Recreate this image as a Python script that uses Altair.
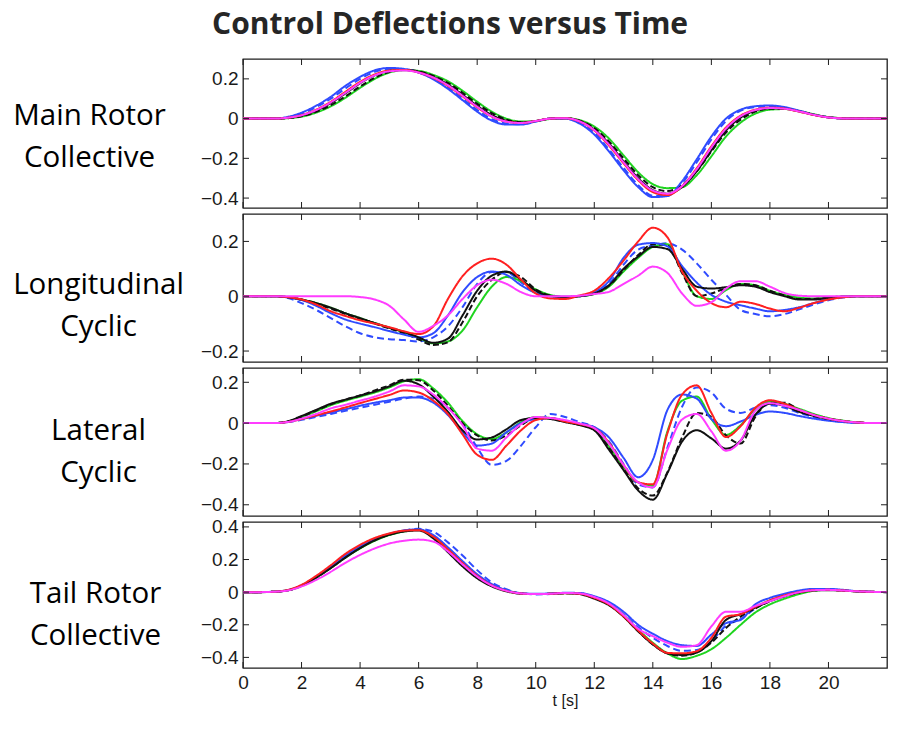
import altair as alt
import pandas as pd

# time grid (s)
T = [i * 0.5 for i in range(45)]
X_TICKS = [0, 2, 4, 6, 8, 10, 12, 14, 16, 18, 20]

SERIES = ["a_bluedash", "b_green", "c_blackdash", "d_blue", "e_black", "f_red", "g_magenta"]
COLORS = ["#2f4bff", "#1fd41f", "#111111", "#2f4bff", "#111111", "#ff2020", "#ff3cff"]
DASHES = [[7, 4], [1, 0], [6, 3], [1, 0], [1, 0], [1, 0], [1, 0]]

# ---- Main Rotor Collective ----
mrc_bluedash = [0,0,0,0.006,0.025,0.058,0.1,0.152,0.2,0.235,0.25,0.248,0.232,0.2,0.155,0.1,0.043,-0.003,-0.025,-0.028,-0.014,0.0,0.0,-0.022,-0.072,-0.155,-0.248,-0.335,-0.388,-0.388,-0.325,-0.22,-0.105,-0.012,0.04,0.058,0.062,0.055,0.038,0.019,0.006,0.001,0,0,0]
mrc_green = [0,0,0,0.002,0.01,0.03,0.062,0.105,0.155,0.2,0.232,0.243,0.24,0.22,0.188,0.14,0.085,0.035,0.0,-0.015,-0.012,-0.002,0.002,-0.008,-0.04,-0.1,-0.185,-0.27,-0.33,-0.35,-0.345,-0.285,-0.19,-0.09,-0.02,0.025,0.045,0.048,0.038,0.022,0.008,0.002,0,0,0]
mrc_blackdash = [0,0,0,0.002,0.012,0.034,0.068,0.112,0.162,0.205,0.235,0.245,0.238,0.215,0.18,0.13,0.075,0.028,-0.005,-0.018,-0.012,0.0,0.002,-0.01,-0.048,-0.115,-0.2,-0.285,-0.345,-0.365,-0.335,-0.265,-0.165,-0.07,-0.005,0.035,0.05,0.05,0.038,0.02,0.007,0.001,0,0,0]
mrc_blue = [0,0,0,0.008,0.03,0.065,0.11,0.165,0.21,0.243,0.255,0.25,0.232,0.198,0.15,0.093,0.035,-0.01,-0.03,-0.03,-0.015,0.0,0.0,-0.025,-0.08,-0.165,-0.26,-0.345,-0.395,-0.39,-0.315,-0.205,-0.09,0.0,0.045,0.062,0.066,0.058,0.04,0.02,0.007,0.001,0,0,0]
mrc_black = [0,0,0,0.003,0.015,0.04,0.078,0.127,0.178,0.218,0.24,0.245,0.235,0.21,0.172,0.12,0.065,0.018,-0.01,-0.02,-0.012,0.0,0.002,-0.012,-0.055,-0.125,-0.215,-0.3,-0.36,-0.378,-0.345,-0.265,-0.16,-0.06,0.005,0.04,0.052,0.05,0.036,0.019,0.006,0.001,0,0,0]
mrc_red = [0,0,0,0.004,0.018,0.045,0.085,0.135,0.185,0.222,0.242,0.245,0.232,0.205,0.165,0.112,0.057,0.01,-0.015,-0.022,-0.012,0.0,0.002,-0.015,-0.06,-0.135,-0.225,-0.31,-0.37,-0.385,-0.34,-0.25,-0.14,-0.045,0.015,0.045,0.055,0.05,0.035,0.018,0.006,0.001,0,0,0]
mrc_magenta = [0,0,0,0.004,0.017,0.043,0.082,0.13,0.18,0.218,0.238,0.242,0.232,0.207,0.168,0.115,0.06,0.012,-0.015,-0.022,-0.012,0.0,0.002,-0.014,-0.058,-0.13,-0.22,-0.305,-0.362,-0.378,-0.34,-0.255,-0.145,-0.05,0.012,0.043,0.053,0.05,0.036,0.019,0.006,0.001,0,0,0]

# ---- Longitudinal Cyclic ----
lon_bluedash = [0,0,0,-0.006,-0.025,-0.05,-0.08,-0.11,-0.135,-0.15,-0.157,-0.16,-0.165,-0.15,-0.11,-0.04,0.045,0.088,0.088,0.05,0.015,0.0,-0.003,0.0,0.012,0.045,0.115,0.17,0.185,0.193,0.17,0.12,0.06,0.005,-0.05,-0.065,-0.073,-0.065,-0.048,-0.03,-0.015,-0.005,0,0,0]
lon_green = [0,0,0,-0.003,-0.012,-0.025,-0.042,-0.062,-0.08,-0.098,-0.115,-0.132,-0.152,-0.172,-0.165,-0.125,-0.04,0.035,0.07,0.055,0.025,0.005,-0.002,0.0,0.008,0.035,0.09,0.14,0.18,0.19,0.09,0.0,-0.01,0.022,0.045,0.04,0.02,0.005,-0.005,-0.008,-0.004,-0.001,0,0,0]
lon_blackdash = [0,0,0,-0.003,-0.013,-0.028,-0.045,-0.065,-0.083,-0.1,-0.118,-0.135,-0.158,-0.178,-0.168,-0.095,0.0,0.06,0.088,0.07,0.025,0.002,-0.003,0.0,0.01,0.038,0.095,0.15,0.19,0.185,0.085,0.0,0.01,0.03,0.045,0.04,0.02,0.003,-0.01,-0.01,-0.005,-0.001,0,0,0]
lon_blue = [0,0,0,-0.004,-0.014,-0.035,-0.062,-0.085,-0.1,-0.113,-0.127,-0.14,-0.15,-0.135,-0.07,0.015,0.07,0.09,0.078,0.04,0.012,0.0,-0.002,0.0,0.014,0.055,0.14,0.188,0.194,0.182,0.11,0.05,0.005,-0.02,-0.033,-0.045,-0.055,-0.05,-0.04,-0.025,-0.01,-0.003,0,0,0]
lon_black = [0,0,0,-0.003,-0.012,-0.025,-0.042,-0.062,-0.08,-0.098,-0.115,-0.13,-0.15,-0.17,-0.155,-0.07,0.02,0.075,0.09,0.06,0.02,0.002,-0.003,0.0,0.01,0.04,0.1,0.145,0.18,0.172,0.1,0.035,0.028,0.033,0.04,0.035,0.015,0.0,-0.012,-0.012,-0.006,-0.002,0,0,0]
lon_red = [0,0,0,-0.003,-0.012,-0.03,-0.055,-0.072,-0.088,-0.1,-0.113,-0.128,-0.138,-0.11,-0.01,0.073,0.12,0.137,0.115,0.06,0.01,-0.008,-0.01,0.003,0.02,0.067,0.13,0.2,0.25,0.215,0.09,0.02,-0.025,-0.04,-0.02,-0.028,-0.045,-0.055,-0.042,-0.025,-0.012,-0.004,0,0,0]
lon_magenta = [0,0,0,0,0,0,0,0,-0.003,-0.012,-0.035,-0.085,-0.13,-0.108,-0.07,-0.01,0.04,0.06,0.045,0.015,0.0,0.0,0.0,0.002,0.008,0.016,0.045,0.075,0.108,0.085,0.01,-0.035,-0.022,0.028,0.055,0.055,0.035,0.012,0.002,0,0,0,0,0,0]

# ---- Lateral Cyclic ----
lat_bluedash = [0,0,0,0.004,0.016,0.03,0.045,0.06,0.075,0.09,0.105,0.12,0.13,0.12,0.075,0.0,-0.12,-0.205,-0.185,-0.11,-0.02,0.045,0.03,0.005,-0.02,-0.09,-0.2,-0.3,-0.315,-0.12,0.08,0.175,0.15,0.07,0.05,0.075,0.088,0.075,0.05,0.03,0.015,0.006,0.001,0,0]
lat_green = [0,0,0,0.006,0.03,0.058,0.088,0.11,0.13,0.15,0.175,0.205,0.215,0.17,0.1,0.01,-0.055,-0.078,-0.045,0.005,0.03,0.025,0.01,-0.005,-0.03,-0.115,-0.215,-0.29,-0.305,-0.04,0.11,0.13,0.02,-0.058,-0.01,0.068,0.105,0.095,0.07,0.045,0.025,0.012,0.004,0,0]
lat_blackdash = [0,0,0,0.006,0.032,0.062,0.092,0.115,0.135,0.16,0.185,0.213,0.21,0.16,0.085,0.0,-0.06,-0.085,-0.06,-0.01,0.025,0.025,0.008,-0.008,-0.032,-0.12,-0.225,-0.32,-0.355,-0.24,-0.07,0.05,0.03,-0.06,-0.1,0.03,0.1,0.1,0.065,0.04,0.022,0.01,0.003,0,0]
lat_blue = [0,0,0,0.005,0.02,0.036,0.052,0.068,0.085,0.1,0.112,0.125,0.125,0.1,0.04,-0.045,-0.11,-0.1,-0.045,0.0,0.02,0.025,0.01,-0.002,-0.02,-0.07,-0.17,-0.265,-0.18,0.065,0.14,0.12,0.02,-0.015,0.008,0.04,0.057,0.05,0.035,0.022,0.012,0.005,0.001,0,0]
lat_black = [0,0,0,0.008,0.035,0.065,0.095,0.115,0.135,0.155,0.18,0.208,0.19,0.13,0.055,-0.035,-0.08,-0.07,-0.03,0.015,0.025,0.02,0.005,-0.01,-0.035,-0.13,-0.23,-0.33,-0.375,-0.244,-0.09,-0.035,-0.075,-0.125,-0.085,0.04,0.095,0.085,0.055,0.035,0.02,0.01,0.003,0,0]
lat_red = [0,0,0,0.005,0.02,0.038,0.057,0.077,0.098,0.118,0.138,0.16,0.15,0.11,0.045,-0.055,-0.155,-0.18,-0.11,-0.035,0.015,0.025,0.008,-0.005,-0.025,-0.095,-0.205,-0.29,-0.3,-0.049,0.14,0.185,0.05,-0.068,-0.015,0.075,0.112,0.095,0.065,0.04,0.022,0.01,0.003,0,0]
lat_magenta = [0,0,0,0.005,0.022,0.045,0.072,0.09,0.11,0.13,0.155,0.185,0.18,0.14,0.075,-0.01,-0.125,-0.135,-0.07,-0.005,0.03,0.025,0.015,-0.002,-0.025,-0.1,-0.205,-0.29,-0.315,-0.13,0.018,0.045,-0.04,-0.135,-0.085,0.06,0.098,0.085,0.065,0.04,0.022,0.01,0.003,0,0]

# ---- Tail Rotor Collective ----
trc_bluedash = [0,0,0.002,0.01,0.04,0.09,0.15,0.213,0.27,0.318,0.355,0.378,0.388,0.37,0.305,0.225,0.135,0.06,0.018,-0.008,-0.014,-0.012,-0.006,-0.008,-0.03,-0.07,-0.135,-0.215,-0.28,-0.33,-0.36,-0.355,-0.3,-0.205,-0.165,-0.1,-0.05,-0.02,0.005,0.015,0.016,0.011,0.005,0.002,0]
trc_green = [0,0,0.002,0.01,0.038,0.088,0.148,0.212,0.268,0.315,0.35,0.372,0.382,0.345,0.27,0.185,0.105,0.045,0.01,-0.008,-0.012,-0.01,-0.006,-0.008,-0.03,-0.07,-0.14,-0.23,-0.31,-0.375,-0.41,-0.39,-0.35,-0.28,-0.2,-0.125,-0.075,-0.04,-0.012,0.008,0.014,0.01,0.005,0.002,0]
trc_blackdash = [0,0,0.002,0.01,0.04,0.09,0.15,0.215,0.272,0.318,0.352,0.374,0.383,0.34,0.26,0.175,0.098,0.042,0.008,-0.008,-0.012,-0.01,-0.006,-0.01,-0.035,-0.075,-0.15,-0.24,-0.32,-0.375,-0.39,-0.37,-0.31,-0.22,-0.15,-0.1,-0.055,-0.025,-0.002,0.012,0.014,0.01,0.005,0.002,0]
trc_blue = [0,0,0.002,0.011,0.042,0.095,0.158,0.225,0.28,0.325,0.358,0.378,0.385,0.35,0.275,0.19,0.11,0.05,0.012,-0.006,-0.01,-0.008,-0.004,-0.005,-0.025,-0.06,-0.12,-0.2,-0.255,-0.3,-0.325,-0.33,-0.26,-0.19,-0.17,-0.075,-0.035,-0.01,0.01,0.02,0.02,0.014,0.006,0.002,0]
trc_black = [0,0,0.002,0.01,0.04,0.09,0.148,0.212,0.27,0.318,0.352,0.372,0.378,0.33,0.245,0.158,0.085,0.035,0.005,-0.01,-0.012,-0.01,-0.006,-0.012,-0.04,-0.08,-0.15,-0.24,-0.32,-0.375,-0.385,-0.37,-0.3,-0.17,-0.135,-0.095,-0.055,-0.025,-0.002,0.01,0.012,0.009,0.004,0.001,0]
trc_red = [0,0,0.002,0.012,0.045,0.1,0.165,0.235,0.29,0.332,0.36,0.377,0.38,0.34,0.262,0.178,0.1,0.042,0.008,-0.008,-0.012,-0.01,-0.006,-0.01,-0.035,-0.075,-0.148,-0.235,-0.315,-0.372,-0.375,-0.362,-0.28,-0.15,-0.135,-0.09,-0.05,-0.02,0.0,0.012,0.014,0.01,0.005,0.002,0]
trc_magenta = [0,0,0.002,0.009,0.035,0.075,0.125,0.18,0.228,0.268,0.298,0.315,0.322,0.31,0.25,0.17,0.095,0.04,0.008,-0.008,-0.012,-0.01,-0.005,-0.008,-0.03,-0.07,-0.14,-0.225,-0.27,-0.31,-0.335,-0.325,-0.21,-0.12,-0.12,-0.085,-0.055,-0.025,0.0,0.012,0.014,0.01,0.005,0.002,0]

PANELS = [
    {"label": ["Main Rotor", "Collective"], "lx": -154, "ly": 65, "height": 149,
     "domain": [-0.45, 0.3], "ticks": [-0.4, -0.2, 0, 0.2],
     "data": [mrc_bluedash, mrc_green, mrc_blackdash, mrc_blue, mrc_black, mrc_red, mrc_magenta]},
    {"label": ["Longitudinal", "Cyclic"], "lx": -145, "ly": 79, "height": 148,
     "domain": [-0.24, 0.3], "ticks": [-0.2, 0, 0.2],
     "data": [lon_bluedash, lon_green, lon_blackdash, lon_blue, lon_black, lon_red, lon_magenta]},
    {"label": ["Lateral", "Cyclic"], "lx": -145, "ly": 71, "height": 148,
     "domain": [-0.455, 0.27], "ticks": [-0.4, -0.2, 0, 0.2],
     "data": [lat_bluedash, lat_green, lat_blackdash, lat_blue, lat_black, lat_red, lat_magenta]},
    {"label": ["Tail Rotor", "Collective"], "lx": -148, "ly": 80, "height": 146,
     "domain": [-0.465, 0.43], "ticks": [-0.4, -0.2, 0, 0.2, 0.4],
     "data": [trc_bluedash, trc_green, trc_blackdash, trc_blue, trc_black, trc_red, trc_magenta]},
]

W = 644
TICK = 6
FRAME = "#1e1e1e"
LABEL_FONT = "Liberation Sans"
LABEL_SIZE = 19


def make_panel(p, bottom):
    rows = []
    for s, vals in zip(SERIES, p["data"]):
        assert len(vals) == len(T), (s, len(vals))
        for t, v in zip(T, vals):
            rows.append({"t": t, "v": v, "s": s})
    df = pd.DataFrame(rows)
    H = p["height"]
    xscale = alt.Scale(domain=[0, 22], nice=False, zero=False)
    yscale = alt.Scale(domain=p["domain"], nice=False, zero=False)

    if bottom:
        xaxis = alt.Axis(values=X_TICKS, ticks=False, domain=False, grid=False,
                         labelFont=LABEL_FONT, labelFontSize=LABEL_SIZE, labelColor="#1a1a1a",
                         labelPadding=5, labelFlush=False, labelOverlap=False,
                         title="t [s]", titleFont=LABEL_FONT, titleFontSize=16,
                         titleFontWeight="normal", titleColor="#1a1a1a", titlePadding=0)
        xenc = alt.X("t:Q", scale=xscale, axis=xaxis)
    else:
        xenc = alt.X("t:Q", scale=xscale, axis=None)

    yaxis = alt.Axis(values=p["ticks"], format="~g", ticks=False, domain=False, grid=False,
                     labelFont=LABEL_FONT, labelFontSize=LABEL_SIZE, labelColor="#1a1a1a",
                     labelPadding=5, labelOverlap=False,
                     title=p["label"], titleAngle=0, titleX=p["lx"], titleY=p["ly"],
                     titleAlign="center", titleBaseline="alphabetic",
                     titleFont="Open Sans", titleFontSize=29.5, titleFontWeight="normal",
                     titleColor="black", titleLineHeight=42)
    yenc = alt.Y("v:Q", scale=yscale, axis=yaxis)

    lines = alt.Chart(df).mark_line(strokeWidth=2, interpolate="monotone", clip=True).encode(
        x=xenc,
        y=yenc,
        color=alt.Color("s:N", scale=alt.Scale(domain=SERIES, range=COLORS), legend=None),
        strokeDash=alt.StrokeDash("s:N", scale=alt.Scale(domain=SERIES, range=DASHES), legend=None),
        order=alt.Order("t:Q"),
    )

    xt = pd.DataFrame({"t": X_TICKS})
    yt = pd.DataFrame({"v": p["ticks"]})
    bot_ticks = alt.Chart(xt).mark_rule(color=FRAME, strokeWidth=1).encode(
        x=xenc, y=alt.value(H), y2=alt.value(H - TICK))
    top_ticks = alt.Chart(xt).mark_rule(color=FRAME, strokeWidth=1).encode(
        x=xenc, y=alt.value(0), y2=alt.value(TICK))
    left_ticks = alt.Chart(yt).mark_rule(color=FRAME, strokeWidth=1).encode(
        y=yenc, x=alt.value(0), x2=alt.value(TICK))
    right_ticks = alt.Chart(yt).mark_rule(color=FRAME, strokeWidth=1).encode(
        y=yenc, x=alt.value(W), x2=alt.value(W - TICK))

    return alt.layer(lines, bot_ticks, top_ticks, left_ticks, right_ticks).properties(
        width=W, height=H)


panels = [make_panel(p, i == len(PANELS) - 1) for i, p in enumerate(PANELS)]

chart = alt.vconcat(*panels, spacing=6, bounds="flush").properties(
    title=alt.TitleParams("Control Deflections versus Time", font="Open Sans", fontSize=30,
                          fontWeight="bold", color="#262626", anchor="middle",
                          frame="bounds", offset=18),
    padding={"left": 3, "top": 1, "right": 0, "bottom": 0},
    background="white",
).configure_view(stroke=FRAME, strokeWidth=1.3)

chart.save("out.html", embed_options={"renderer": "svg", "actions": False})
